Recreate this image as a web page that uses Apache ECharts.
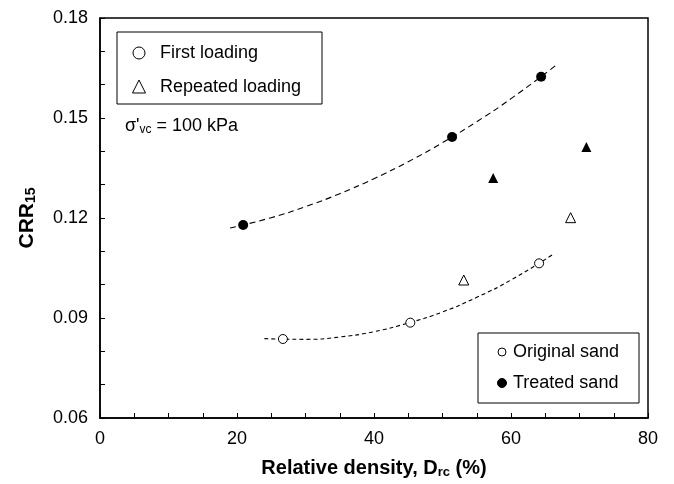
<!DOCTYPE html>
<html><head><meta charset="utf-8">
<script src="https://cdn.jsdelivr.net/npm/echarts@6/dist/echarts.min.js"></script>
<style>html,body{margin:0;padding:0;background:#fff}#c{width:674px;height:484px}</style>
</head><body><div id="c"></div>
<script>
const treatedFirst = [[20.9, 0.1179], [51.4, 0.1443], [64.4, 0.1624]];
const treatedRepeated = [[57.4, 0.1320], [71.0, 0.1413]];
const originalFirst = [[26.7, 0.0837], [45.3, 0.0886], [64.1, 0.1064]];
const originalRepeated = [[53.1, 0.1014], [68.7, 0.1201]];
// Dashed trend curves
const treatedTrend = [[19, 0.1170], [25, 0.1201], [30, 0.1234], [35, 0.1273], [40, 0.1318], [45, 0.1369], [50, 0.1426], [55, 0.1489], [60, 0.1558], [66.5, 0.1657]];
const originalTrend = [[24, 0.0838], [30, 0.0836], [35, 0.0843], [40, 0.0859], [45, 0.0885], [50, 0.0918], [55, 0.0962], [60, 0.1014], [66, 0.1089]];

const FONT = '"Liberation Sans", Arial, sans-serif';
const chart = echarts.init(document.getElementById('c'), null, {renderer: 'canvas'});

const axisCommon = {
  axisLine: {onZero: false, lineStyle: {color: '#000', width: 1.5}},
  axisTick: {inside: true, length: 5, lineStyle: {color: '#000'}},
  minorTick: {show: true, length: 5, lineStyle: {color: '#000'}},
  splitLine: {show: false},
  axisLabel: {color: '#000', fontSize: 18, fontFamily: FONT, margin: 12},
  nameMoveOverlap: false
};

chart.setOption({
  animation: false,
  backgroundColor: '#fff',
  grid: {left: 100, right: 26, top: 18, bottom: 66, show: true, borderColor: '#000', borderWidth: 1.5, backgroundColor: 'transparent'},
  xAxis: Object.assign({}, axisCommon, {
    type: 'value', min: 0, max: 80, interval: 20,
    minorTick: Object.assign({}, axisCommon.minorTick, {splitNumber: 4}),
    name: 'Relative density, D{sub|rc} (%)', nameLocation: 'middle', nameGap: 40,
    nameTextStyle: {color: '#000', fontFamily: FONT, fontWeight: 'bold', fontSize: 20,
      rich: {sub: {fontSize: 13, fontWeight: 'bold', fontFamily: FONT, color: '#000', verticalAlign: 'bottom', padding: [8, 0, 0, 0]}}}
  }),
  yAxis: Object.assign({}, axisCommon, {
    type: 'value', min: 0.06, max: 0.18, interval: 0.03,
    minorTick: Object.assign({}, axisCommon.minorTick, {splitNumber: 3}),
    axisLabel: Object.assign({}, axisCommon.axisLabel, {formatter: v => v.toFixed(2)}),
    name: 'CRR{sub|15}', nameLocation: 'middle', nameGap: 62, nameRotate: 90,
    nameTextStyle: {color: '#000', fontFamily: FONT, fontWeight: 'bold', fontSize: 21,
      rich: {sub: {fontSize: 14, fontWeight: 'bold', fontFamily: FONT, color: '#000', verticalAlign: 'bottom', padding: [8, 0, 0, 0]}}}
  }),
  series: [
    {type: 'line', data: treatedTrend, smooth: true, showSymbol: false, symbol: 'none',
      lineStyle: {color: '#000', width: 1.1, type: [6, 4]}, z: 1},
    {type: 'line', data: originalTrend, smooth: true, showSymbol: false, symbol: 'none',
      lineStyle: {color: '#000', width: 1.1, type: [4, 3]}, z: 1},
    {type: 'scatter', data: treatedFirst, symbol: 'circle', symbolSize: 10,
      itemStyle: {color: '#000', opacity: 1}, z: 3},
    {type: 'scatter', data: treatedRepeated, symbol: 'triangle', symbolSize: 10,
      itemStyle: {color: '#000', opacity: 1}, z: 3},
    {type: 'scatter', data: originalFirst, symbol: 'circle', symbolSize: 9,
      itemStyle: {color: '#fff', borderColor: '#000', borderWidth: 1, opacity: 1}, z: 3},
    {type: 'scatter', data: originalRepeated, symbol: 'triangle', symbolSize: 10,
      itemStyle: {color: '#fff', borderColor: '#000', borderWidth: 1, opacity: 1}, z: 3}
  ],
  graphic: [
    // Upper-left legend
    {type: 'rect', shape: {x: 117, y: 32, width: 205, height: 72}, style: {fill: '#fff', stroke: '#000', lineWidth: 1}, z: 10},
    {type: 'circle', shape: {cx: 139, cy: 53, r: 6}, style: {fill: '#fff', stroke: '#000', lineWidth: 1}, z: 11},
    {type: 'text', x: 160, y: 53, style: {text: 'First loading', font: '18px ' + FONT, fill: '#000', verticalAlign: 'middle'}, z: 11},
    {type: 'polygon', shape: {points: [[139, 80], [132.5, 93], [145.5, 93]]}, style: {fill: '#fff', stroke: '#000', lineWidth: 1}, z: 11},
    {type: 'text', x: 160, y: 87, style: {text: 'Repeated loading', font: '18px ' + FONT, fill: '#000', verticalAlign: 'middle'}, z: 11},
    // Stress annotation
    {type: 'text', x: 125, y: 126, style: {
      text: "σ'{s|vc} = 100 kPa", font: '18px ' + FONT, fill: '#000', verticalAlign: 'middle',
      rich: {s: {fontSize: 12, fontFamily: FONT, fill: '#000', padding: [8, 0, 0, 0]}}}, z: 11},
    // Lower-right legend
    {type: 'rect', shape: {x: 478, y: 333, width: 161, height: 70}, style: {fill: '#fff', stroke: '#000', lineWidth: 1}, z: 10},
    {type: 'circle', shape: {cx: 502, cy: 352, r: 4}, style: {fill: '#fff', stroke: '#000', lineWidth: 1}, z: 11},
    {type: 'text', x: 513, y: 352, style: {text: 'Original sand', font: '18px ' + FONT, fill: '#000', verticalAlign: 'middle'}, z: 11},
    {type: 'circle', shape: {cx: 502, cy: 383, r: 4.5}, style: {fill: '#000', stroke: '#000', lineWidth: 1}, z: 11},
    {type: 'text', x: 513, y: 383, style: {text: 'Treated sand', font: '18px ' + FONT, fill: '#000', verticalAlign: 'middle'}, z: 11}
  ]
});
</script></body></html>
